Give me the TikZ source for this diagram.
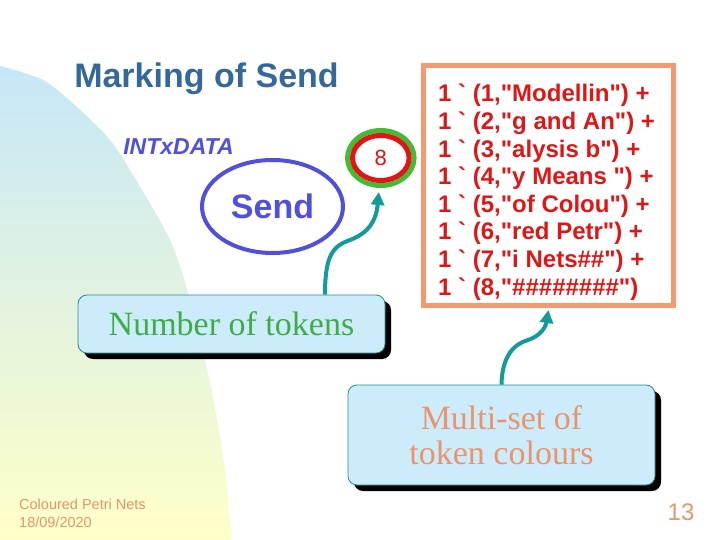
\documentclass[tikz,border=0pt]{standalone}
\usepackage{fontspec}
\setmainfont{Liberation Serif}
\newfontfamily\arialf{Liberation Sans}
\newfontfamily\redfont{Liberation Sans}[Ligatures=TeXOff]
\usetikzlibrary{arrows.meta,shadows,shapes.geometric}
\definecolor{titleblue}{HTML}{35689A}
\definecolor{indigo1}{HTML}{5050DD}
\definecolor{teal1}{HTML}{139A9A}
\definecolor{boxfill}{HTML}{CCECFC}
\definecolor{boxedge}{HTML}{2E8B8B}
\definecolor{greentxt}{HTML}{3EAE44}
\definecolor{salmon}{HTML}{E9956B}
\definecolor{orange1}{HTML}{F29A70}
\definecolor{red1}{HTML}{E01515}
\definecolor{ring}{HTML}{45BB35}
\definecolor{bgtop}{HTML}{C6E7F8}
\definecolor{bgbot}{HTML}{FFFFC8}
\tikzset{
  conn/.style={draw=teal1, line width=4pt, -{Triangle[length=13pt,width=13pt]}},
  callout/.style={rectangle, rounded corners=9pt, draw=boxedge, fill=boxfill, line width=0.8pt,
    drop shadow={shadow xshift=6pt, shadow yshift=-6pt, opacity=1, fill=black}},
  redline/.style={anchor=base west, inner sep=0pt, text=red1, font=\redfont\bfseries\fontsize{24}{24}\selectfont},
}
\begin{document}
\begin{tikzpicture}[x=1pt,y=-1pt]
\useasboundingbox (0,0) rectangle (720,540);
\fill[white] (0,0) rectangle (720,540);
\shade[top color=bgtop, bottom color=bgbot]
  plot[smooth] coordinates {(0,66) (43,80) (77,107) (110,140) (133,175) (170,240) (190,300) (210,383) (225,470) (231,540)}
  -- (0,540) -- cycle;

\node[anchor=base, inner sep=0pt, text=titleblue, font=\arialf\bfseries\fontsize{34}{34}\selectfont] (title) at (206.5,88) {Marking of Send};
\node[anchor=base, inner sep=0pt, text=indigo1, font=\arialf\bfseries\itshape\fontsize{23}{23}\selectfont] (type) at (178.5,155) {INTxDATA};
\node[ellipse, draw=indigo1, line width=4pt, minimum width=141pt, minimum height=93pt, inner sep=0pt,
  text=indigo1, font=\arialf\bfseries\fontsize{34}{34}\selectfont] (place) at (272.5,206.5) {Send\hspace{11pt}};

\node[ellipse, draw=ring, line width=5pt, minimum width=66.6pt, minimum height=55pt, inner sep=0pt,
  text=red1, font=\arialf\fontsize{22}{22}\selectfont] (mark) at (380.8,158) {\raisebox{-1pt}{8}\hspace{4pt}};
\draw[red1, line width=5pt] (mark.center) ellipse (28.3 and 22.5);

\node[draw=orange1, line width=5pt, minimum width=250pt, minimum height=240pt, inner sep=0pt] (ms) at (548.5,185.5) {};
\node[redline] (l1) at (438,102) {1 \symbol{96} (1,"Modellin") +};
\node[redline] (l2) at (438,129.6) {1 \symbol{96} (2,"g and An") +};
\node[redline] (l3) at (438,157.2) {1 \symbol{96} (3,"alysis b") +};
\node[redline] (l4) at (438,184.8) {1 \symbol{96} (4,"y Means ") +};
\node[redline] (l5) at (438,212.4) {1 \symbol{96} (5,"of Colou") +};
\node[redline] (l6) at (438,240) {1 \symbol{96} (6,"red Petr") +};
\node[redline] (l7) at (438,267.6) {1 \symbol{96} (7,"i Nets\#\#") +};
\node[redline] (l8) at (438,295.2) {1 \symbol{96} (8,"\#\#\#\#\#\#\#\#")};

\node[callout, minimum width=307pt, minimum height=58pt, inner sep=0pt, text=greentxt,
  font=\fontsize{34}{34}\selectfont] (tok) at (231.5,324) {Number of tokens};
\node[callout, minimum width=307pt, minimum height=100pt, inner sep=0pt, align=center, text=salmon,
  font=\fontsize{34}{35}\selectfont] (mset) at (501.5,435) {Multi-set of\\token colours};

\draw[conn] ([xshift=93.5pt]tok.north) .. controls (325,255) and (333,246) .. (350,240)
  .. controls (368,233) and (376,222) .. ([xshift=-2pt,yshift=-4pt]mark.south);
\draw[conn] (mset.north) .. controls (502,356) and (514,344) .. (528,340)
  .. controls (541,336) and (546,326) .. ([yshift=-2pt]ms.south);

\node[anchor=base west, inner sep=0pt, text=salmon, font=\arialf\fontsize{14.5}{14.5}\selectfont] (f1) at (19,509) {Coloured Petri Nets};
\node[anchor=base west, inner sep=0pt, text=salmon, font=\arialf\fontsize{14.5}{14.5}\selectfont] (f2) at (19,527) {18/09/2020};
\node[anchor=base, inner sep=0pt, text=salmon, font=\arialf\fontsize{24}{24}\selectfont] (pg) at (681,520) {13};
\end{tikzpicture}
\end{document}
